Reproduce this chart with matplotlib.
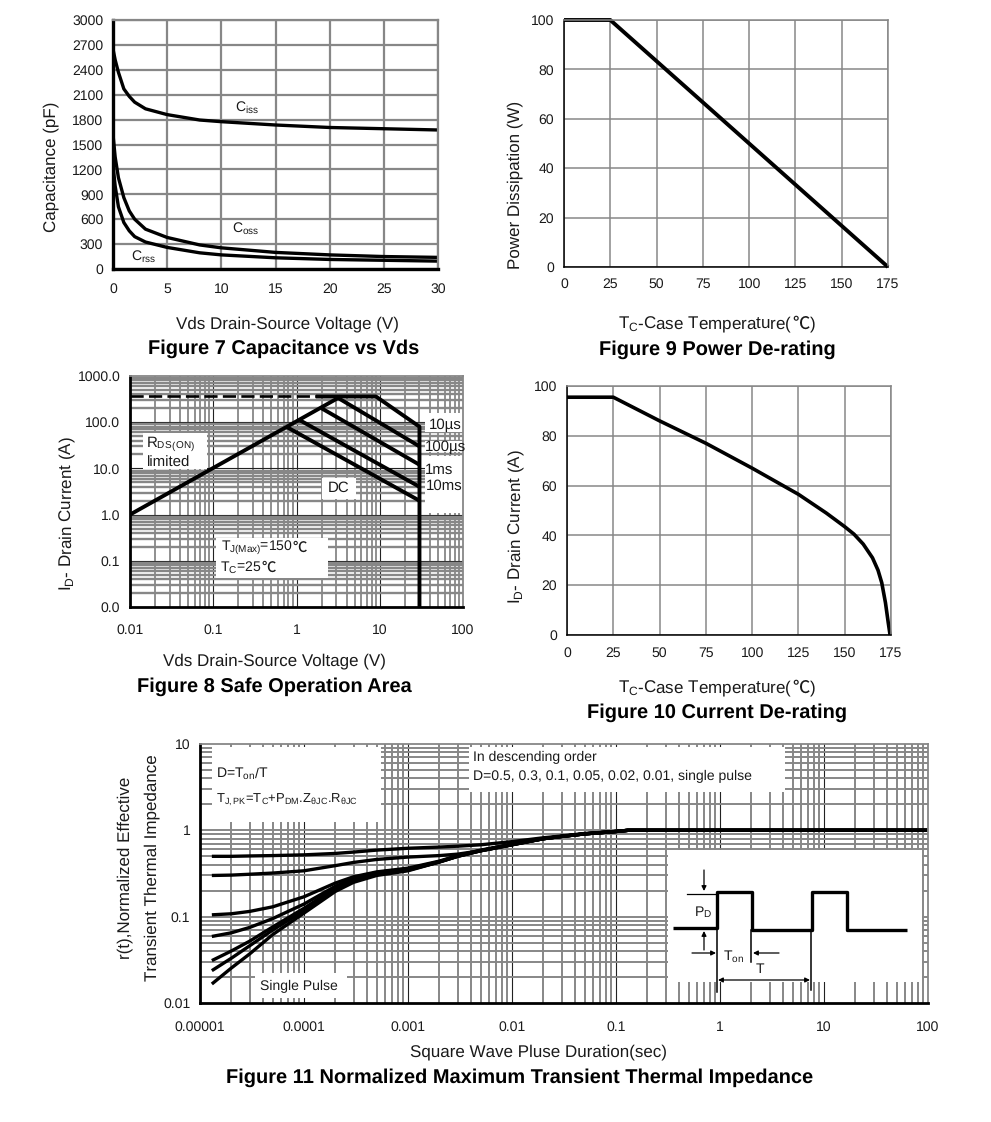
#!/usr/bin/env python3
"""MOSFET datasheet characteristic curves, figures 7 to 11."""
import matplotlib
matplotlib.use("Agg")
import matplotlib.pyplot as plt
from matplotlib.patches import Rectangle
from matplotlib.ticker import LogLocator, NullFormatter

plt.rcParams["font.family"] = ["Liberation Sans", "Noto Sans CJK SC", "DejaVu Sans"]
plt.rcParams["mathtext.fontset"] = "custom"
plt.rcParams["mathtext.rm"] = "Liberation Sans"
plt.rcParams["mathtext.default"] = "rm"
plt.rcParams["text.hinting"] = "none"
plt.rcParams["text.hinting_factor"] = 1

W, H = 991, 1122
GRAY = "#878787"
TEXT = "#1a1a1a"
TICK_FS = 10
LABEL_FS = 12.4
TITLE_FS = 14.2

# Figure 7
cap_v = [0, 0.2, 0.5, 1, 1.5, 2, 3, 5, 8, 10, 15, 20, 25, 30]
ciss = [2650, 2520, 2370, 2170, 2080, 2010, 1930, 1860, 1795, 1775, 1735, 1705, 1690, 1675]
coss = [1620, 1350, 1100, 860, 700, 600, 480, 380, 290, 255, 200, 170, 150, 140]
crss = [1250, 1000, 750, 560, 460, 390, 325, 260, 195, 170, 135, 115, 105, 95]

# Figure 9
power_t = [0, 25, 175]
power_w = [100, 100, 0]

# Figure 10
curr_t = [0, 25, 50, 75, 100, 125, 140, 150, 155, 160, 165, 168, 170, 172, 173.5, 174.5]
curr_a = [95.5, 95.5, 86, 77, 67, 56.5, 49, 43.5, 40.5, 36.5, 31, 26, 21, 13, 5, 0]

# Figure 8
rds_v = [0.01, 3.4]
rds_i = [1, 360]
pkg_v = [0.01, 1.7]
pkg_i = [360, 360]
us10_v = [1.7, 9, 30, 30]
us10_i = [360, 360, 80, 0.01]
us100_v = [3.2, 30]
us100_i = [330, 30]
ms1_v = [2, 30]
ms1_i = [200, 12]
ms10_v = [1.1, 30]
ms10_i = [110, 4]
dc_v = [0.75, 30]
dc_i = [80, 2]

# Figure 11
zth_t = [1.3e-5, 2e-5, 3e-5, 5e-5, 1e-4, 2e-4, 3e-4, 5e-4, 1e-3, 2e-3, 3e-3, 5e-3,
         1e-2, 2e-2, 3e-2, 5e-2, 0.1, 0.13, 100]
zth_d05 = [0.50, 0.50, 0.505, 0.51, 0.52, 0.54, 0.56, 0.59, 0.62, 0.64, 0.655, 0.68,
           0.74, 0.82, 0.86, 0.92, 0.97, 1.0, 1.0]
zth_d03 = [0.30, 0.303, 0.31, 0.32, 0.34, 0.39, 0.425, 0.46, 0.49, 0.51, 0.53, 0.58,
           0.69, 0.80, 0.85, 0.91, 0.97, 1.0, 1.0]
zth_d01 = [0.105, 0.108, 0.115, 0.13, 0.17, 0.245, 0.29, 0.33, 0.365, 0.44, 0.51, 0.59,
           0.69, 0.80, 0.85, 0.91, 0.97, 1.0, 1.0]
zth_d005 = [0.059, 0.065, 0.075, 0.095, 0.14, 0.225, 0.275, 0.325, 0.355, 0.435, 0.505, 0.585,
            0.685, 0.80, 0.85, 0.91, 0.97, 1.0, 1.0]
zth_d002 = [0.031, 0.04, 0.052, 0.076, 0.125, 0.215, 0.265, 0.315, 0.35, 0.43, 0.50, 0.58,
            0.68, 0.80, 0.85, 0.91, 0.97, 1.0, 1.0]
zth_d001 = [0.0237, 0.033, 0.046, 0.07, 0.118, 0.205, 0.26, 0.31, 0.345, 0.43, 0.50, 0.58,
            0.68, 0.80, 0.85, 0.91, 0.97, 1.0, 1.0]
zth_single = [0.0166, 0.0254, 0.037, 0.062, 0.11, 0.196, 0.25, 0.30, 0.34, 0.43, 0.50, 0.58,
              0.68, 0.80, 0.85, 0.91, 0.97, 1.0, 1.0]
zth_series = [zth_d05, zth_d03, zth_d01, zth_d005, zth_d002, zth_d001, zth_single]

# Pulse sketch inside figure 11, in sketch units
pulse_x = [673, 717, 717, 752, 752, 812, 812, 847, 847, 907]
pulse_y = [928, 928, 892, 892, 930, 930, 892, 892, 930, 930]

fig = plt.figure(figsize=(W / 100, H / 100), dpi=100, facecolor="white")


def px_axes(left, top, right, bottom):
    return fig.add_axes([left / W, 1 - bottom / H, (right - left) / W, (bottom - top) / H])


def px_text(x, y, s, **kw):
    kw.setdefault("ha", "center")
    kw.setdefault("va", "center")
    kw.setdefault("color", TEXT)
    return fig.text(x / W, 1 - y / H, s, **kw)


def degc_text(x, y, before, after, fontsize, **kw):
    # mathtext has no glyph for the degree-celsius sign, so it gets its own text
    renderer = fig.canvas.get_renderer()
    parts = [(before, "Liberation Sans"), ("℃", "Noto Sans CJK SC"), (after, "Liberation Sans")]
    texts = []
    widths = []
    for s, fam in parts:
        if not s:
            continue
        t = px_text(0, y, s, ha="left", fontsize=fontsize, family=fam, **kw)
        if s == "℃":
            t.set_fontweight("light")
        texts.append(t)
        widths.append(t.get_window_extent(renderer).width)
    cur = x - sum(widths) / 2
    for t, w in zip(texts, widths):
        t.set_x(cur / W)
        cur += w


def px_box(left, top, right, bottom):
    # white masks over the grid, given in picture pixels
    fig.add_artist(Rectangle((left / W, 1 - bottom / H), (right - left) / W, (bottom - top) / H,
                             transform=fig.transFigure, facecolor="white", edgecolor="none",
                             zorder=1))


def lin_panel(rect, xticks, yticks, grid_lw, spine_lw, xpad):
    ax = px_axes(*rect)
    ax.set_xlim(xticks[0], xticks[-1])
    ax.set_ylim(yticks[0], yticks[-1])
    ax.set_xticks(xticks)
    ax.set_yticks(yticks)
    ax.grid(color=GRAY, linewidth=grid_lw)
    ax.set_axisbelow(True)
    ax.tick_params(length=0, labelsize=TICK_FS, pad=7, colors=TEXT)
    ax.tick_params(axis="x", pad=xpad)
    for side in ("top", "right"):
        ax.spines[side].set_color(GRAY)
        ax.spines[side].set_linewidth(grid_lw)
    for side in ("left", "bottom"):
        ax.spines[side].set_color("black")
        ax.spines[side].set_linewidth(spine_lw)
    return ax


def log_panel(rect, xlim, ylim, xticks, xlabels, yticks, ylabels, xpad, ygrid_lw, xgrid_lw):
    ax = px_axes(*rect)
    ax.patch.set_alpha(0)
    ax.set_zorder(2)
    ax.set_xscale("log")
    ax.set_yscale("log")
    ax.set_xlim(*xlim)
    ax.set_ylim(*ylim)
    ax.set_xticks(xticks, xlabels)
    ax.set_yticks(yticks, ylabels)
    for axis in (ax.xaxis, ax.yaxis):
        axis.set_minor_locator(LogLocator(base=10, subs=range(2, 10), numticks=20))
        axis.set_minor_formatter(NullFormatter())
    ax.tick_params(which="both", length=0, labelsize=TICK_FS, colors=TEXT)
    ax.tick_params(axis="y", pad=7)
    ax.tick_params(axis="x", pad=xpad)
    for side in ("top", "right"):
        ax.spines[side].set_color(GRAY)
        ax.spines[side].set_linewidth(1.3)
    for side in ("left", "bottom"):
        ax.spines[side].set_color("black")
        ax.spines[side].set_linewidth(2.0)
    # grid sits on its own axes so the white masks can cover it
    back = px_axes(*rect)
    back.set_zorder(0)
    back.set_xscale("log")
    back.set_yscale("log")
    back.set_xlim(*xlim)
    back.set_ylim(*ylim)
    back.set_xticks(xticks[1:-1])
    back.set_yticks(yticks[1:-1])
    for axis in (back.xaxis, back.yaxis):
        axis.set_minor_locator(LogLocator(base=10, subs=range(2, 10), numticks=20))
        axis.set_minor_formatter(NullFormatter())
        axis.set_major_formatter(NullFormatter())
    back.tick_params(which="both", length=0)
    back.grid(which="minor", axis="y", color=GRAY, linewidth=ygrid_lw)
    back.grid(which="minor", axis="x", color=GRAY, linewidth=xgrid_lw)
    for s in back.spines.values():
        s.set_visible(False)
    return ax, back


LINE = dict(color="black", solid_capstyle="butt", solid_joinstyle="round")

# Figure 7
ax7 = lin_panel((113, 20, 438, 269), list(range(0, 31, 5)), list(range(0, 3001, 300)), 1.6, 2.4, 10)
for series in (ciss, coss, crss):
    ax7.plot(cap_v, series, lw=2.4, **LINE)
px_text(247, 108, "C$_{iss}$", fontsize=10)
px_text(246, 229, "C$_{oss}$", fontsize=10)
px_text(144, 257, "C$_{rss}$", fontsize=10)
px_text(51, 167, "Capacitance (pF)", rotation=90, fontsize=LABEL_FS)
px_text(287, 324, "Vds Drain-Source Voltage (V)", fontsize=LABEL_FS)
px_text(284, 349, "Figure 7 Capacitance vs Vds", fontsize=TITLE_FS, fontweight="bold", color="black")

# Figure 9
ax9 = lin_panel((564, 20, 888, 267), list(range(0, 176, 25)), list(range(0, 101, 20)), 1.1, 1.1, 8)
ax9.plot(power_t, power_w, lw=2.8, clip_on=False, **LINE)
px_text(515, 185, "Power Dissipation (W)", rotation=90, fontsize=LABEL_FS)
degc_text(717, 324, "T$_{C}$-Case Temperature(", ")", LABEL_FS)
px_text(717, 350, "Figure 9 Power De-rating", fontsize=TITLE_FS, fontweight="bold", color="black")

# Figure 10
ax10 = lin_panel((567, 386, 891, 635), list(range(0, 176, 25)), list(range(0, 101, 20)), 1.1, 1.1, 8.5)
ax10.plot(curr_t, curr_a, lw=2.6, clip_on=False, **LINE)
px_text(516, 527, "I$_{D}$- Drain Current (A)", rotation=90, fontsize=LABEL_FS)
degc_text(717, 688, "T$_{C}$-Case Temperature(", ")", LABEL_FS)
px_text(717, 713, "Figure 10 Current De-rating", fontsize=TITLE_FS, fontweight="bold", color="black")

# Figure 8
ax8, back8 = log_panel((130, 376, 463, 607), (0.01, 100), (0.01, 1000),
                       [0.01, 0.1, 1, 10, 100], ["0.01", "0.1", "1", "10", "100"],
                       [0.01, 0.1, 1, 10, 100, 1000], ["0.0", "0.1", "1.0", "10.0", "100.0", "1000.0"],
                       12, 1.7, 1.3)
back8.grid(which="major", color="#222222", linewidth=0.8)
for box in [(143, 433, 207, 469), (216, 538, 328, 578), (322, 478, 356, 499),
            (425, 413, 464, 432), (425, 441, 464, 452), (425, 456, 464, 513)]:
    px_box(*box)
ax8.plot(rds_v, rds_i, lw=2.8, **LINE)
ax8.plot(pkg_v, pkg_i, lw=1.9, color="black", dashes=(5, 2))
ax8.plot(us10_v, us10_i, lw=2.8, **LINE)
for vx, ix in ((us100_v, us100_i), (ms1_v, ms1_i), (ms10_v, ms10_i), (dc_v, dc_i)):
    ax8.plot(vx, ix, lw=2.8, **LINE)
for x, y, s in [(171, 444, "R$_{DS(ON)}$"), (169, 463, "limited"), (339, 488, "DC"),
                (445, 425, "10µs"), (445, 447, "100µs"), (439, 470, "1ms"), (444, 486, "10ms")]:
    px_text(x, y, s, fontsize=10.5, zorder=5)
degc_text(264, 548, "T$_{J(Max)}$=150", "", 10.3, zorder=5)
degc_text(248, 568, "T$_{C}$=25", "", 10.3, zorder=5)
px_text(67, 514, "I$_{D}$- Drain Current (A)", rotation=90, fontsize=LABEL_FS)
px_text(274, 661, "Vds Drain-Source Voltage (V)", fontsize=LABEL_FS)
px_text(274, 687, "Figure 8 Safe Operation Area", fontsize=TITLE_FS, fontweight="bold", color="black")

# Figure 11
ax11, back11 = log_panel((200, 744, 928, 1003), (1e-5, 100), (0.01, 10),
                         [1e-5, 1e-4, 1e-3, 1e-2, 0.1, 1, 10, 100],
                         ["0.00001", "0.0001", "0.001", "0.01", "0.1", "1", "10", "100"],
                         [0.01, 0.1, 1, 10], ["0.01", "0.1", "1", "10"],
                         13, 1.4, 1.4)
back11.grid(which="major", axis="x", color="#222222", linewidth=0.8)
back11.grid(which="major", axis="y", color=GRAY, linewidth=1.4)
for box in [(212, 747, 381, 822), (469, 747, 785, 792), (668, 850, 922, 982), (255, 973, 347, 998)]:
    px_box(*box)
for series in zth_series:
    ax11.plot(zth_t, series, lw=2.4, **LINE)
px_text(216, 774, "D=T$_{on}$/T", fontsize=10, ha="left", zorder=5)
px_text(216, 800, "T$_{J,PK}$=T$_{C}$+P$_{DM}$.Z$_{θJC}$.R$_{θJC}$", fontsize=9.7, ha="left", zorder=5)
px_text(473, 757, "In descending order", fontsize=10.1, ha="left", zorder=5)
px_text(473, 776, "D=0.5, 0.3, 0.1, 0.05, 0.02, 0.01, single pulse", fontsize=10.1, ha="left", zorder=5)
px_text(299, 986, "Single Pulse", fontsize=10, zorder=5)
px_text(125, 868, "r(t),Normalized Effective", rotation=90, fontsize=LABEL_FS)
px_text(152, 868, "Transient Thermal Impedance", rotation=90, fontsize=LABEL_FS)
px_text(538, 1052, "Square Wave Pluse Duration(sec)", fontsize=LABEL_FS)
px_text(520, 1078, "Figure 11 Normalized Maximum Transient Thermal Impedance",
        fontsize=TITLE_FS, fontweight="bold", color="black")

# pulse sketch, axes in picture pixels
sk = px_axes(0, 0, W, H)
sk.set_xlim(0, W)
sk.set_ylim(H, 0)
sk.axis("off")
sk.patch.set_alpha(0)
sk.set_zorder(4)
sk.plot(pulse_x, pulse_y, lw=2.4, **LINE)
sk.plot([687, 717], [894, 894], lw=0.9, color="black")
sk.plot([717, 717], [928, 992], lw=1.1, color="black")
sk.plot([751, 751], [930, 962], lw=1.1, color="black")
sk.plot([811, 811], [930, 990], lw=1.1, color="black")
ARROW = dict(arrowstyle="-|>", color="black", lw=0.9, mutation_scale=7, shrinkA=0, shrinkB=0)
sk.annotate("", xy=(704, 891), xytext=(704, 870), arrowprops=ARROW)
sk.annotate("", xy=(704, 931), xytext=(704, 950), arrowprops=ARROW)
sk.annotate("", xy=(716, 953), xytext=(692, 953), arrowprops=ARROW)
sk.annotate("", xy=(753, 953), xytext=(779, 953), arrowprops=ARROW)
sk.annotate("", xy=(718, 980), xytext=(810, 980),
            arrowprops=dict(ARROW, arrowstyle="<|-|>"))
sk.text(703, 912, "P$_{D}$", fontsize=10, ha="center", va="center", color=TEXT)
sk.text(734, 956, "T$_{on}$", fontsize=10, ha="center", va="center", color=TEXT)
sk.text(760, 969, "T", fontsize=10, ha="center", va="center", color=TEXT)

fig.savefig("out.png", dpi=100)
